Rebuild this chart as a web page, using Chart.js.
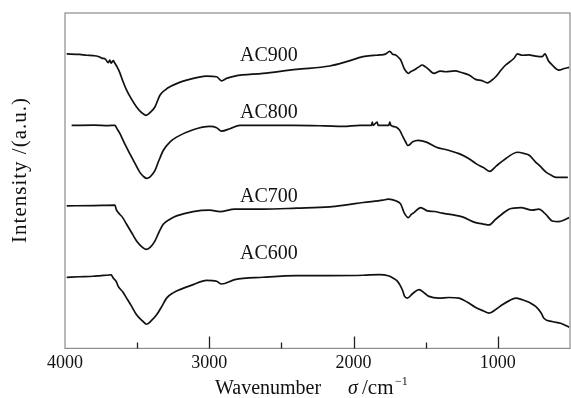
<!DOCTYPE html>
<html>
<head>
<meta charset="utf-8">
<script src="https://cdn.jsdelivr.net/npm/chart.js@4.4.1/dist/chart.umd.min.js"></script>
<style>
  body { margin: 0; background: #fff; }
  #wrap { width: 571px; height: 398px; }
</style>
</head>
<body>
<div id="wrap"><canvas id="ftir" width="571" height="398"></canvas></div>
<script>
// wavenumber (cm-1) / intensity (a.u., offset per sample)
const wn900 = [3988, 3900, 3850, 3804, 3770, 3745, 3720, 3700, 3690, 3680, 3666, 3654, 3640, 3619, 3600, 3573, 3540, 3504, 3470, 3439, 3410, 3377, 3342, 3300, 3273, 3210, 3157, 3080, 3019, 2949, 2915, 2880, 2823, 2627, 2396, 2165, 2049, 1934, 1860, 1819, 1780, 1749, 1730, 1708, 1690, 1673, 1650, 1635, 1620, 1600, 1581, 1550, 1523, 1505, 1488, 1443, 1400, 1362, 1300, 1246, 1200, 1154, 1110, 1073, 1040, 1015, 980, 946, 888, 865, 830, 785, 740, 692, 674, 650, 623, 577, 540, 506];
const ac900 = [292.7, 292.2, 291.4, 291, 290.2, 288.5, 287.5, 284, 286.5, 283.6, 286, 283.4, 280, 273.7, 266, 256.7, 248, 240, 234.5, 231.7, 234.5, 240, 251.7, 257.5, 260, 264.2, 266.7, 269.4, 270.7, 270, 266, 268.4, 270.7, 273.4, 277.4, 280.7, 285, 290, 291.2, 291.7, 292.5, 295.2, 292.5, 291.7, 289.4, 286.7, 278.4, 275.2, 273.4, 275.4, 276.7, 279.6, 281.7, 280.1, 278.4, 273.4, 275.6, 275, 275.8, 274, 271.8, 267.4, 266.2, 264, 266.8, 270, 276.2, 281.7, 288.4, 292.7, 291.4, 291.7, 290.6, 290, 292.7, 286, 281.7, 276.7, 278.2, 279.4];

const wn800 = [3954, 3800, 3700, 3654, 3640, 3619, 3590, 3550, 3515, 3481, 3455, 3434, 3410, 3377, 3350, 3319, 3270, 3227, 3112, 2996, 2949, 2915, 2857, 2788, 2419, 2200, 2073, 1957, 1876, 1870, 1865, 1837, 1830, 1756, 1749, 1742, 1727, 1700, 1680, 1657, 1640, 1623, 1590, 1553, 1495, 1426, 1350, 1265, 1200, 1149, 1100, 1057, 1010, 964, 861, 820, 780, 740, 711, 664, 630, 595, 515];
const ac800 = [221.7, 221.9, 221.5, 221.7, 218.5, 213.4, 204.5, 193.4, 184, 175, 170.8, 169, 170.6, 176.7, 186.5, 196.7, 205.5, 210, 217.4, 220.7, 219.4, 216, 218.4, 221.7, 221.7, 221.2, 220.7, 221.7, 221.7, 225, 221.7, 225, 221.7, 221.7, 225, 221.7, 220.7, 219.5, 216.7, 210, 205.4, 201.7, 205.3, 206.7, 205, 200, 197.2, 193.4, 188.6, 183.4, 179.8, 176, 181.5, 186.7, 195, 193.8, 191.7, 185.5, 181.7, 175, 172.1, 170, 170];

const wn700 = [3988, 3800, 3654, 3645, 3631, 3600, 3573, 3540, 3504, 3465, 3439, 3410, 3377, 3350, 3319, 3270, 3227, 3112, 2996, 2927, 2823, 2627, 2396, 2165, 2049, 1934, 1796, 1760, 1727, 1708, 1673, 1650, 1620, 1600, 1581, 1535, 1488, 1440, 1384, 1300, 1246, 1154, 1100, 1061, 1015, 970, 923, 842, 761, 716, 669, 623, 577, 506];
const ac700 = [141.7, 142, 142.4, 138.2, 135, 130, 123.4, 115.5, 106.7, 100.6, 98.4, 100.5, 106.7, 115.2, 123.4, 128.6, 131.7, 136, 137.4, 136, 138.4, 138.4, 139.4, 140.7, 142.7, 145, 147.4, 148.3, 147.7, 146.7, 143.4, 135, 130, 133.2, 135, 140, 136.7, 136.1, 134.4, 132.5, 130.7, 125, 123.6, 122.7, 128.4, 133.6, 138.4, 140, 137.4, 138.4, 133.4, 126.7, 126, 130];

const wn600 = [3988, 3900, 3804, 3750, 3712, 3680, 3666, 3645, 3631, 3600, 3573, 3540, 3504, 3465, 3434, 3400, 3365, 3330, 3296, 3250, 3204, 3112, 3019, 2949, 2915, 2823, 2627, 2396, 2165, 1934, 1819, 1760, 1727, 1700, 1680, 1660, 1646, 1627, 1590, 1546, 1510, 1477, 1408, 1340, 1269, 1210, 1154, 1100, 1061, 1010, 969, 920, 877, 830, 780, 738, 700, 681, 623, 565, 506];
const ac600 = [70.7, 71.2, 71.7, 72.4, 72.7, 73.2, 70, 66.5, 61.7, 56.2, 50, 42.3, 33.4, 27.6, 24, 27.8, 33.4, 41.5, 50, 55.2, 58.4, 63.4, 67.7, 66.7, 64, 68.4, 70.7, 72.4, 72.4, 72.7, 73.4, 72.2, 70, 67.4, 63.4, 57.5, 51.7, 50, 54.6, 58.4, 55.1, 51.7, 50, 50.6, 50, 45.8, 40.7, 37.2, 35, 39.2, 43.4, 47.5, 50, 48.4, 45.6, 41.7, 35.2, 30, 26.7, 25, 21];

const tickValues = [4000, 3000, 2000, 1000];
const minorTicks = [3500, 2500, 1500];
const sampleNames = ['AC900', 'AC800', 'AC700', 'AC600'];
const nameX = [2587, 2587, 2587, 2587];
const nameY = [290.7, 234.2, 151.2, 94.2];

const pts = (xs, ys) => xs.map((x, i) => ({ x: x, y: ys[i] }));
const serif = '"Liberation Serif", "Times New Roman", serif';

const frame = {
    id: 'frame',
    beforeDraw(chart) {
        const c = chart.ctx;
        c.save();
        c.fillStyle = '#fff';
        c.fillRect(0, 0, chart.width, chart.height);
        c.restore();
    },
    afterDatasetsDraw(chart) {
        const c = chart.ctx, a = chart.chartArea, xs = chart.scales.x, ys = chart.scales.y;
        c.save();
        c.strokeStyle = '#8c8c8c';
        c.lineWidth = 1.2;
        c.strokeRect(a.left, a.top, a.right - a.left, a.bottom - a.top);
        c.strokeStyle = '#222';
        c.lineWidth = 1.3;
        c.beginPath();
        tickValues.forEach(v => {
            if (v === 4000) return;
            const px = Math.round(xs.getPixelForValue(v)) + 0.5;
            c.moveTo(px, a.bottom); c.lineTo(px, a.bottom - 12);
        });
        minorTicks.forEach(v => {
            const px = Math.round(xs.getPixelForValue(v)) + 0.5;
            c.moveTo(px, a.bottom); c.lineTo(px, a.bottom - 6);
        });
        c.stroke();

        // sample names
        c.fillStyle = '#111';
        c.font = '20px ' + serif;
        c.textAlign = 'center';
        c.textBaseline = 'middle';
        sampleNames.forEach((n, i) => {
            c.fillText(n, xs.getPixelForValue(nameX[i]), ys.getPixelForValue(nameY[i]));
        });

        // y title
        c.save();
        c.translate(20, 170);
        c.rotate(-Math.PI / 2);
        c.font = '21px ' + serif;
        c.letterSpacing = '1px';
        c.fillText('Intensity /(a.u.)', 0, 0);
        c.restore();

        // x title
        c.textAlign = 'left';
        c.textBaseline = 'alphabetic';
        c.font = '20px ' + serif;
        c.fillText('Wavenumber', 215, 394);
        c.font = 'italic 20px ' + serif;
        c.fillText('σ', 348, 394);
        c.font = '21px ' + serif;
        c.fillText('/cm', 362, 394);
        c.font = '12px ' + serif;
        c.fillText('\u22121', 395, 385);
        c.restore();
    }
};

const lineStyle = { borderColor: '#111', borderWidth: 1.7, pointRadius: 0, cubicInterpolationMode: 'monotone', fill: false };

new Chart(document.getElementById('ftir').getContext('2d'), {
    type: 'line',
    data: {
        datasets: [
            Object.assign({ label: 'AC900', data: pts(wn900, ac900) }, lineStyle),
            Object.assign({ label: 'AC800', data: pts(wn800, ac800) }, lineStyle),
            Object.assign({ label: 'AC700', data: pts(wn700, ac700) }, lineStyle),
            Object.assign({ label: 'AC600', data: pts(wn600, ac600) }, lineStyle)
        ]
    },
    options: {
        responsive: false,
        animation: false,
        layout: { padding: { left: 65, right: 1, top: 13, bottom: 20 } },
        plugins: {
            legend: { display: false },
            tooltip: { enabled: false }
        },
        scales: {
            x: {
                type: 'linear',
                reverse: true,
                min: 500,
                max: 4000,
                afterBuildTicks: s => { s.ticks = tickValues.map(v => ({ value: v })); },
                grid: { display: false, drawTicks: false },
                border: { display: false },
                ticks: {
                    padding: 4,
                    maxRotation: 0,
                    color: '#111',
                    callback: v => String(v),
                    font: { family: serif, size: 18 }
                }
            },
            y: {
                display: false,
                min: 0,
                max: 333.4
            }
        }
    },
    plugins: [frame]
});
</script>
</body>
</html>
